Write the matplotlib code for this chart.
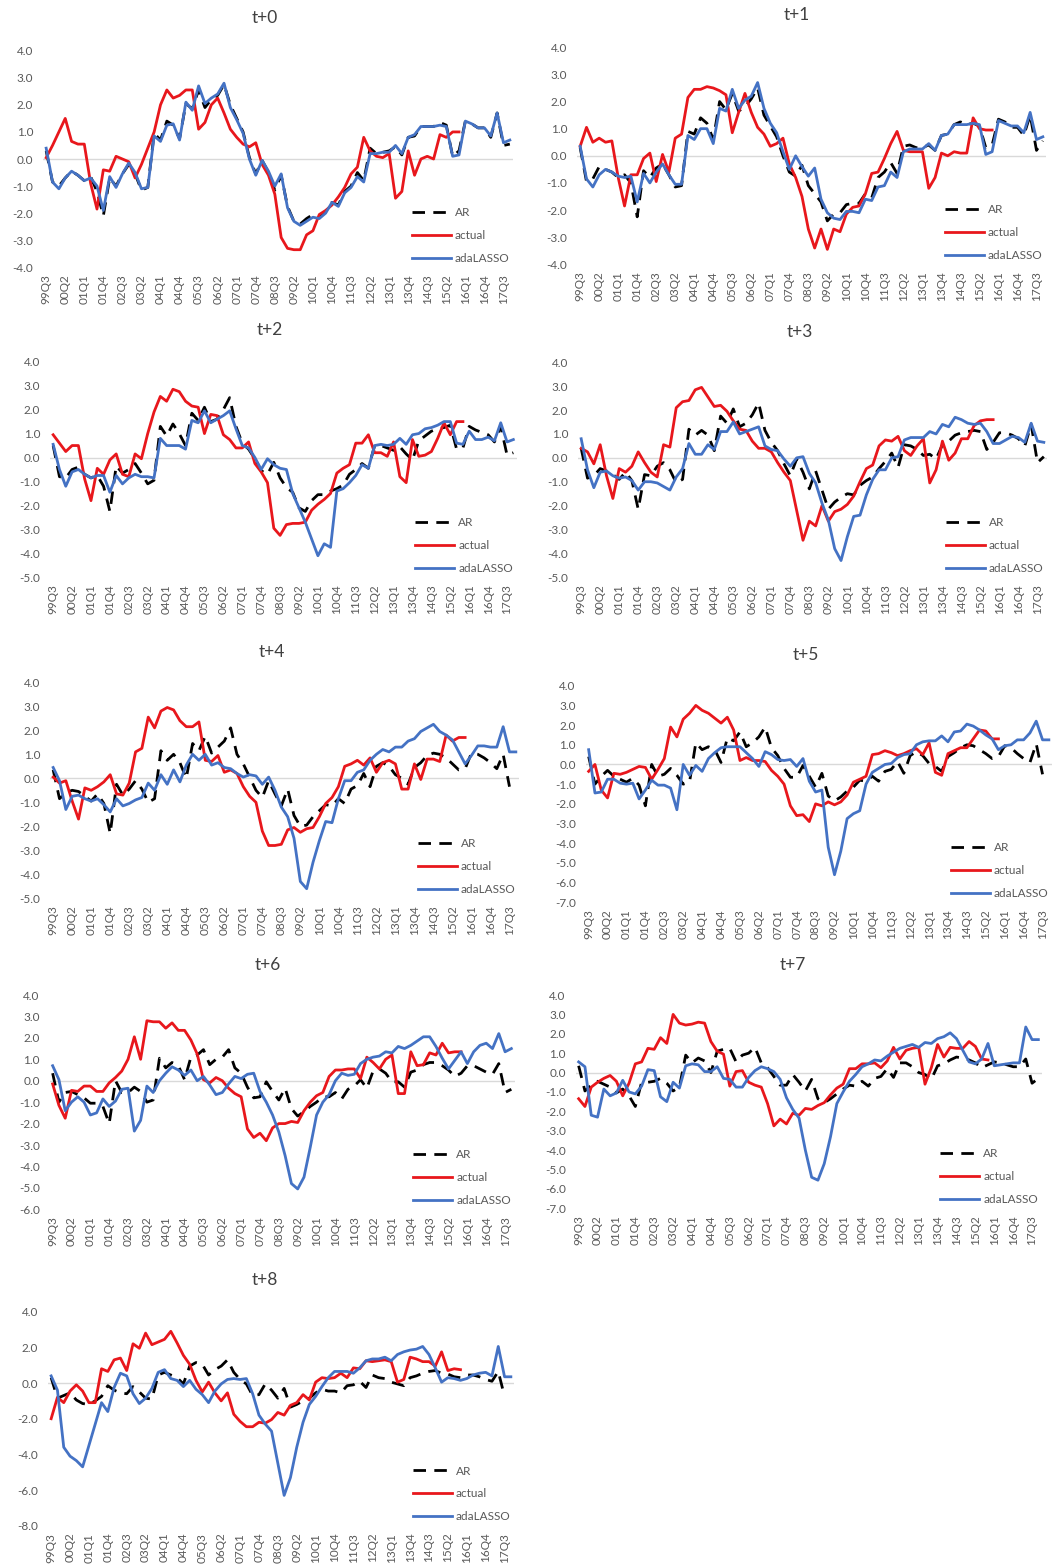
import numpy as np
import matplotlib
matplotlib.use("Agg")
import matplotlib.pyplot as plt
from matplotlib.ticker import FormatStrFormatter

plt.rcParams["font.family"] = ["Lato", "DejaVu Sans"]
plt.rcParams["axes.unicode_minus"] = False

# quarterly categories 99Q3 .. 17Q4
quarters = [f"{y % 100:02d}Q{q}" for y in range(1999, 2018) for q in range(1, 5)][2:]
N_Q = len(quarters)

tick_labels = ["99Q3", "00Q2", "01Q1", "01Q4", "02Q3", "03Q2", "04Q1", "04Q4", "05Q3",
               "06Q2", "07Q1", "07Q4", "08Q3", "09Q2", "10Q1", "10Q4", "11Q3", "12Q2",
               "13Q1", "13Q4", "14Q3", "15Q2", "16Q1", "16Q4", "17Q3"]

# ---- t+0 ----
ar_h0 = [0.3, -0.85, -1.0, -0.7, -0.45, -0.6, -0.8, -0.65, -1.2, -2.1,
         -0.7, -1.0, -0.55, -0.2, -0.55, -1.15, -1.05, 0.95, 0.7, 1.4,
         1.25, 0.75, 2.05, 1.85, 2.55, 1.9, 2.2, 2.35, 2.75, 2.0,
         1.5, 1.0, 0.05, -0.55, -0.05, -0.5, -1.15, -0.6, -1.75, -2.3,
         -2.4, -2.2, -2.05, -2.15, -1.95, -1.6, -1.7, -1.2, -1.0, -0.5,
         -0.8, 0.4, 0.2, 0.25, 0.3, 0.45, 0.15, 0.8, 0.85, 1.2,
         1.2, 1.2, 1.35, 1.25, 0.1, 0.3, 1.4, 1.3, 1.15, 1.15,
         0.8, 1.7, 0.5, 0.55]
actual_h0 = [0.05, 0.5, 1.0, 1.5, 0.65, 0.55, 0.55, -0.9, -1.85, -0.4,
             -0.45, 0.1, 0.0, -0.1, -0.7, -0.2, 0.4, 1.0, 2.0, 2.55,
             2.25, 2.35, 2.55, 2.55, 1.1, 1.35, 2.0, 2.25, 1.7, 1.1,
             0.8, 0.55, 0.45, 0.6, -0.2, -0.6, -1.3, -2.9, -3.3, -3.35,
             -3.35, -2.8, -2.65, -2.05, -1.9, -1.7, -1.4, -1.05, -0.55, -0.3,
             0.8, 0.3, 0.1, 0.05, 0.2, -1.45, -1.2, 0.3, -0.6, 0.0,
             0.1, 0.0, 0.9, 0.8, 1.0, 1.0]
lasso_h0 = [0.4, -0.85, -1.1, -0.7, -0.45, -0.6, -0.8, -0.7, -1.0, -1.9,
            -0.65, -1.05, -0.55, -0.15, -0.5, -1.1, -1.05, 0.85, 0.65, 1.25,
            1.3, 0.7, 2.1, 1.8, 2.7, 2.05, 2.25, 2.4, 2.8, 1.9,
            1.45, 0.95, 0.0, -0.6, -0.05, -0.45, -1.0, -0.55, -1.8, -2.3,
            -2.45, -2.3, -2.15, -2.2, -2.0, -1.6, -1.75, -1.25, -1.05, -0.65,
            -0.85, 0.2, 0.2, 0.25, 0.25, 0.5, 0.2, 0.8, 0.9, 1.2,
            1.2, 1.2, 1.25, 1.2, 0.1, 0.15, 1.4, 1.3, 1.15, 1.15,
            0.85, 1.7, 0.6, 0.7]

# ---- t+1 ----
ar_h1 = [0.3, -0.95, -0.85, -0.4, -0.5, -0.6, -0.8, -0.7, -1.0, -2.25,
         -0.55, -0.8, -0.45, -0.3, -0.7, -1.15, -1.1, 0.9, 0.8, 1.4,
         1.2, 0.6, 2.0, 1.7, 2.3, 1.65, 1.8, 2.1, 2.5, 1.5,
         1.1, 0.7, 0.0, -0.6, -0.75, -0.35, -1.1, -1.4, -1.7, -2.4,
         -2.15, -2.1, -1.8, -1.75, -1.75, -1.4, -1.55, -0.8, -0.6, -0.25,
         -0.65, 0.35, 0.4, 0.3, 0.3, 0.4, 0.2, 0.75, 0.8, 1.15,
         1.25, 1.15, 1.2, 1.1, 0.3, 0.4, 1.35, 1.25, 1.05, 1.05,
         0.75, 1.5, 0.2, 0.55]
actual_h1 = [0.35, 1.05, 0.5, 0.65, 0.5, 0.55, -0.8, -1.85, -0.7, -0.7,
             -0.1, 0.1, -0.95, 0.05, -0.6, 0.65, 0.8, 2.15, 2.45, 2.45,
             2.55, 2.5, 2.4, 2.25, 0.85, 1.6, 2.3, 1.6, 1.05, 0.8,
             0.35, 0.45, 0.65, -0.3, -0.8, -1.5, -2.7, -3.4, -2.7, -3.45,
             -2.7, -2.8, -2.15, -1.9, -1.85, -1.4, -0.65, -0.6, -0.1, 0.45,
             0.9, 0.2, 0.15, 0.15, 0.15, -1.2, -0.8, 0.1, 0.0, 0.15,
             0.1, 0.1, 1.4, 1.0, 0.95, 0.95]
lasso_h1 = [0.35, -0.85, -1.15, -0.7, -0.5, -0.6, -0.75, -0.8, -0.75, -1.7,
            -0.65, -1.0, -0.6, -0.3, -0.7, -1.05, -1.05, 0.75, 0.6, 1.0,
            1.0, 0.45, 1.75, 1.65, 2.45, 1.75, 2.05, 2.2, 2.7, 1.75,
            1.2, 0.85, 0.15, -0.5, 0.0, -0.4, -0.75, -0.45, -1.6, -2.1,
            -2.3, -2.35, -2.05, -2.05, -2.1, -1.6, -1.65, -1.15, -1.1, -0.6,
            -0.8, 0.15, 0.25, 0.25, 0.25, 0.45, 0.2, 0.75, 0.8, 1.15,
            1.15, 1.15, 1.2, 1.15, 0.05, 0.15, 1.3, 1.2, 1.1, 1.1,
            0.85, 1.6, 0.6, 0.7]

# ---- t+2 ----
ar_h2 = [0.5, -0.8, -0.85, -0.5, -0.4, -0.7, -0.85, -0.75, -1.2, -2.25,
         -0.35, -0.65, -0.5, -0.25, -0.65, -1.1, -0.95, 1.3, 0.9, 1.4,
         1.0, 0.5, 1.85, 1.55, 2.1, 1.5, 1.6, 2.0, 2.5, 1.3,
         0.6, 0.35, -0.05, -0.55, -0.7, -0.2, -0.85, -1.25, -1.45, -2.1,
         -2.25, -1.8, -1.55, -1.55, -1.4, -1.3, -1.15, -0.7, -0.5, -0.25,
         -0.45, 0.5, 0.5, 0.4, 0.3, 0.45, 0.15, -0.1, 0.7, 0.9,
         1.1, 1.2, 1.25, 1.35, 0.35, 0.4, 1.3, 1.15, 1.05, 0.95,
         0.65, 1.3, 0.1, 0.2]
actual_h2 = [0.95, 0.6, 0.25, 0.5, 0.5, -0.9, -1.8, -0.45, -0.7, -0.1,
             0.15, -0.7, -0.8, 0.15, -0.05, 1.0, 1.9, 2.55, 2.35, 2.85,
             2.75, 2.35, 2.15, 2.1, 1.0, 1.8, 1.75, 0.95, 0.75, 0.4,
             0.4, 0.65, -0.25, -0.6, -1.05, -2.95, -3.25, -2.8, -2.75, -2.75,
             -2.7, -2.2, -1.95, -1.75, -1.5, -0.65, -0.45, -0.3, 0.6, 0.6,
             0.95, 0.2, 0.2, 0.05, 0.65, -0.8, -1.05, 0.75, 0.05, 0.1,
             0.25, 0.8, 1.45, 0.95, 1.5, 1.5]
lasso_h2 = [0.55, -0.5, -1.2, -0.6, -0.5, -0.7, -0.85, -0.75, -0.75, -1.45,
            -0.75, -1.1, -0.85, -0.7, -0.8, -0.8, -0.85, 0.8, 0.5, 0.5,
            0.5, 0.35, 1.55, 1.45, 1.95, 1.45, 1.6, 1.75, 1.95, 1.2,
            0.5, 0.4, 0.0, -0.5, -0.05, -0.3, -0.45, -0.5, -1.5, -2.1,
            -2.7, -3.4, -4.1, -3.6, -3.75, -1.4, -1.3, -1.05, -0.75, -0.3,
            -0.45, 0.5, 0.55, 0.5, 0.55, 0.8, 0.55, 0.95, 1.0, 1.2,
            1.25, 1.35, 1.5, 1.5, 0.6, 0.55, 1.1, 0.75, 0.75, 0.85,
            0.7, 1.45, 0.65, 0.75]

# ---- t+3 ----
ar_h3 = [0.4, -0.85, -0.75, -0.45, -0.55, -0.7, -0.9, -0.6, -0.95, -2.15,
         -0.7, -0.75, -0.35, -0.2, -0.5, -1.05, -0.9, 1.2, 0.95, 1.15,
         0.95, 0.3, 1.75, 1.45, 2.05, 1.3, 1.45, 1.8, 2.3, 1.15,
         0.65, 0.3, -0.25, -0.75, -0.05, -0.6, -1.3, -0.55, -1.35, -2.15,
         -1.85, -1.65, -1.5, -1.55, -1.15, -0.95, -0.8, -0.45, -0.15, 0.2,
         -0.4, 0.55, 0.5, 0.35, 0.1, 0.15, -0.05, 0.55, 0.7, 0.95,
         1.05, 1.1, 1.15, 1.1, 0.35, 0.65, 1.05, 1.05, 0.95, 0.8,
         0.5, 1.4, -0.2, 0.05]
actual_h3 = [0.4, 0.25, -0.25, 0.55, -0.75, -1.7, -0.45, -0.6, -0.35, 0.25,
             -0.2, -0.6, -0.8, 0.55, 0.45, 2.1, 2.35, 2.4, 2.85, 2.95,
             2.55, 2.15, 2.2, 1.95, 1.55, 1.2, 1.15, 0.7, 0.4, 0.4,
             0.25, -0.2, -0.6, -0.95, -2.2, -3.45, -2.65, -2.85, -2.0, -2.65,
             -2.25, -2.15, -1.95, -1.6, -1.0, -0.45, -0.3, 0.5, 0.75, 0.7,
             0.9, 0.3, 0.1, 0.5, 0.8, -1.05, -0.5, 0.7, -0.1, 0.2,
             0.8, 0.8, 1.35, 1.55, 1.6, 1.6]
lasso_h3 = [0.8, -0.5, -1.25, -0.6, -0.55, -0.75, -0.85, -0.8, -0.95, -1.35,
            -1.0, -1.0, -1.05, -1.2, -1.35, -0.8, -0.45, 0.6, 0.15, 0.15,
            0.55, 0.35, 1.1, 1.1, 1.5, 1.0, 1.1, 1.2, 1.3, 0.5,
            0.35, 0.3, -0.05, -0.35, 0.0, 0.05, -0.65, -1.05, -1.9, -2.6,
            -3.8, -4.3, -3.3, -2.45, -2.4, -1.55, -0.9, -0.5, -0.5, 0.0,
            0.05, 0.75, 0.85, 0.85, 0.85, 1.1, 1.0, 1.4, 1.3, 1.7,
            1.6, 1.45, 1.4, 1.45, 1.1, 0.6, 0.6, 0.75, 0.9, 0.85,
            0.65, 1.45, 0.7, 0.65]

# ---- t+4 ----
ar_h4 = [0.35, -0.85, -0.6, -0.5, -0.55, -0.75, -0.95, -0.65, -1.05, -2.3,
         -0.25, -0.7, -0.45, -0.1, -0.45, -1.0, -0.85, 1.15, 0.75, 1.0,
         0.65, 0.0, 1.45, 1.15, 1.75, 1.05, 1.3, 1.55, 2.1, 1.0,
         0.6, 0.05, -0.5, -0.8, -0.1, -0.65, -1.15, -0.45, -1.55, -2.0,
         -1.95, -1.6, -1.35, -1.1, -1.15, -0.85, -1.05, -0.45, -0.3, 0.2,
         -0.35, 0.5, 0.65, 0.5, 0.15, 0.0, -0.25, 0.45, 0.65, 0.95,
         1.05, 1.0, 0.85, 0.6, 0.35, 0.4, 1.05, 1.0, 0.85, 0.65,
         0.4, 1.0, -0.35]
actual_h4 = [0.05, -0.2, -0.1, -0.95, -1.7, -0.4, -0.5, -0.35, -0.15, 0.15,
             -0.65, -0.7, -0.2, 1.1, 1.25, 2.55, 2.1, 2.8, 2.95, 2.85,
             2.4, 2.15, 2.15, 2.35, 0.75, 0.7, 0.95, 0.25, 0.35, 0.2,
             -0.35, -0.75, -1.0, -2.2, -2.8, -2.8, -2.75, -2.15, -2.05, -2.25,
             -2.1, -2.05, -1.6, -1.05, -0.8, -0.35, 0.5, 0.6, 0.75, 0.55,
             0.85, 0.25, 0.65, 0.75, 0.6, -0.45, -0.45, 0.6, -0.05, 0.8,
             0.8, 0.7, 1.8, 1.55, 1.7, 1.7]
lasso_h4 = [0.45, -0.1, -1.3, -0.75, -0.7, -0.85, -0.95, -0.85, -1.1, -1.4,
            -0.85, -1.15, -1.05, -0.9, -0.8, -0.2, -0.5, 0.15, -0.25, 0.35,
            -0.15, 0.55, 1.0, 0.75, 1.0, 0.55, 0.65, 0.45, 0.4, 0.2,
            0.05, 0.15, 0.1, -0.25, 0.05, -0.5, -1.2, -1.6, -2.5, -4.3,
            -4.6, -3.5, -2.6, -1.8, -1.85, -0.85, -0.1, -0.1, 0.25, 0.35,
            0.75, 1.0, 1.2, 1.1, 1.3, 1.3, 1.55, 1.65, 1.95, 2.1,
            2.25, 1.95, 1.8, 1.6, 1.1, 0.6, 0.95, 1.35, 1.35, 1.3,
            1.3, 2.15, 1.1, 1.1]

# ---- t+5 ----
ar_h5 = [0.4, -1.0, -0.6, -0.3, -0.6, -0.75, -0.9, -0.7, -1.05, -2.1,
         0.0, -0.6, -0.5, -0.2, -0.55, -1.0, -0.9, 1.1, 0.75, 0.9,
         0.75, 0.1, 1.35, 1.2, 1.65, 0.9, 1.1, 1.4, 1.9, 0.85,
         0.45, -0.2, -0.65, -0.65, -0.05, -0.6, -1.15, -0.45, -1.6, -1.85,
         -1.65, -1.35, -1.15, -0.8, -0.85, -0.6, -0.85, -0.35, -0.25, 0.15,
         -0.45, 0.45, 0.65, 0.45, 0.05, -0.1, -0.35, 0.4, 0.6, 0.85,
         1.0, 0.95, 0.75, 0.55, 0.3, 0.4, 0.95, 0.85, 0.55, 0.3,
         0.1, 1.05, -0.5]
actual_h5 = [-0.35, 0.0, -1.3, -1.7, -0.45, -0.5, -0.4, -0.25, -0.1, -0.15,
             -0.75, -0.25, 0.3, 1.9, 1.4, 2.3, 2.6, 3.0, 2.75, 2.6,
             2.35, 2.1, 2.4, 1.75, 0.2, 0.35, 0.2, 0.2, 0.15, -0.3,
             -0.6, -1.0, -2.1, -2.6, -2.55, -2.9, -2.0, -2.1, -1.9, -2.05,
             -1.9, -1.55, -0.9, -0.75, -0.6, 0.5, 0.55, 0.7, 0.6, 0.45,
             0.55, 0.7, 0.8, 0.5, 1.1, -0.4, -0.55, 0.55, 0.7, 0.85,
             0.85, 1.3, 1.75, 1.7, 1.3, 1.3]
lasso_h5 = [0.75, -1.45, -1.4, -0.75, -0.75, -0.95, -1.0, -0.95, -1.75, -1.3,
            -0.8, -1.05, -1.05, -1.2, -2.3, 0.0, -0.55, -0.05, -0.35, 0.3,
            0.6, 0.85, 0.9, 0.9, 0.9, 0.6, 0.3, -0.1, 0.65, 0.5,
            0.25, 0.2, 0.25, -0.1, 0.3, -0.85, -1.4, -1.3, -4.2, -5.6,
            -4.4, -2.75, -2.5, -2.35, -1.0, -0.4, -0.2, 0.0, 0.05, 0.35,
            0.5, 0.55, 1.0, 1.15, 1.2, 1.2, 1.45, 1.15, 1.65, 1.7,
            2.05, 1.95, 1.75, 1.5, 1.3, 0.75, 0.95, 1.0, 1.25, 1.25,
            1.6, 2.2, 1.25, 1.25]

# ---- t+6 ----
ar_h6 = [0.35, -1.0, -0.55, -0.5, -0.65, -0.8, -1.05, -1.05, -1.2, -2.0,
         0.0, -0.55, -0.55, -0.3, -0.5, -1.0, -0.9, 1.05, 0.6, 0.85,
         0.7, 0.05, 1.1, 1.2, 1.45, 0.75, 1.0, 1.1, 1.45, 0.6,
         0.35, -0.3, -0.8, -0.75, -0.05, -0.5, -0.9, -0.35, -1.3, -1.65,
         -1.45, -1.2, -1.0, -0.75, -0.75, -0.55, -0.85, -0.4, -0.25, 0.05,
         -0.35, 0.45, 0.55, 0.35, -0.05, -0.05, -0.3, 0.4, 0.5, 0.75,
         0.85, 0.85, 0.7, 0.5, 0.2, 0.35, 0.7, 0.7, 0.55, 0.4,
         0.3, 0.8, -0.55, -0.4]
actual_h6 = [-0.15, -1.15, -1.75, -0.45, -0.5, -0.25, -0.25, -0.5, -0.5, -0.1,
             0.15, 0.45, 1.0, 2.05, 1.0, 2.8, 2.75, 2.75, 2.45, 2.7,
             2.35, 2.35, 1.9, 1.25, 0.05, -0.1, 0.15, 0.0, -0.35, -0.6,
             -0.75, -2.25, -2.65, -2.45, -2.8, -2.2, -2.0, -2.0, -1.9, -1.95,
             -1.4, -1.0, -0.7, -0.55, 0.2, 0.5, 0.5, 0.55, 0.55, 0.1,
             1.1, 0.85, 0.55, 1.0, 1.2, -0.6, -0.6, 1.35, 0.7, 0.75,
             1.3, 1.2, 1.75, 1.3, 1.35, 1.35]
lasso_h6 = [0.7, 0.05, -1.4, -1.0, -0.75, -1.0, -1.6, -1.5, -0.85, -1.2,
            -0.95, -0.4, -0.35, -2.35, -1.85, -0.25, -0.55, 0.0, 0.35, 0.65,
            0.5, 0.25, 0.5, 0.0, 0.2, -0.2, -0.65, -0.55, -0.15, 0.2,
            0.1, 0.3, 0.35, -0.5, -1.0, -1.6, -2.4, -3.5, -4.8, -5.05,
            -4.5, -3.1, -1.6, -1.0, -0.65, 0.0, 0.35, 0.25, 0.3, 0.8,
            1.0, 1.1, 1.15, 1.35, 1.3, 1.6, 1.5, 1.65, 1.85, 2.05,
            2.05, 1.6, 1.05, 0.55, 0.95, 1.35, 0.8, 1.35, 1.65, 1.75,
            1.5, 2.2, 1.35, 1.5]

# ---- t+7 ----
ar_h7 = [0.35, -0.95, -0.65, -0.45, -0.6, -0.75, -1.05, -0.85, -1.2, -1.75,
         -0.5, -0.5, -0.45, -0.3, -0.55, -0.95, -0.75, 0.9, 0.5, 0.75,
         0.6, 0.0, 1.1, 1.2, 1.25, 0.55, 0.9, 1.0, 1.3, 0.5,
         0.25, -0.2, -0.65, -0.65, -0.1, -0.5, -0.95, -0.35, -1.35, -1.55,
         -1.35, -1.1, -0.85, -0.65, -0.7, -0.45, -0.7, -0.3, -0.2, 0.2,
         -0.25, 0.5, 0.5, 0.3, 0.0, -0.1, -0.35, 0.35, 0.45, 0.65,
         0.8, 0.75, 0.65, 0.5, 0.25, 0.4, 0.55, 0.5, 0.4, 0.3,
         0.3, 0.7, -0.55, -0.3]
actual_h7 = [-1.35, -1.75, -0.75, -0.5, -0.3, -0.15, -0.45, -1.2, -0.55, 0.45,
             0.55, 1.25, 1.2, 1.8, 1.5, 3.0, 2.55, 2.45, 2.5, 2.6,
             2.55, 1.6, 1.1, 0.95, -0.7, 0.05, 0.1, -0.5, -0.65, -0.75,
             -1.6, -2.75, -2.4, -2.65, -2.1, -2.2, -1.85, -1.9, -1.7, -1.55,
             -1.15, -0.8, -0.6, 0.2, 0.2, 0.45, 0.45, 0.5, 0.25, 0.6,
             1.3, 0.7, 1.15, 1.25, 1.3, -0.6, 0.25, 1.45, 0.8, 1.3,
             1.25, 1.25, 1.6, 1.35, 0.7, 0.65]
lasso_h7 = [0.55, 0.3, -2.2, -2.3, -0.85, -1.2, -1.05, -0.4, -1.0, -1.1,
            -0.7, 0.15, 0.1, -1.25, -1.5, -0.5, -0.8, 0.35, 0.45, 0.4,
            0.05, 0.05, 0.3, -0.3, -0.35, -0.75, -0.75, -0.25, 0.1, 0.3,
            0.2, 0.05, -0.35, -1.3, -1.9, -2.35, -4.0, -5.4, -5.55, -4.7,
            -3.3, -1.6, -1.0, -0.45, -0.1, 0.3, 0.45, 0.65, 0.6, 0.85,
            1.05, 1.25, 1.35, 1.45, 1.3, 1.55, 1.5, 1.75, 1.85, 2.05,
            1.75, 1.15, 0.55, 0.45, 0.7, 1.5, 0.35, 0.4, 0.45, 0.5,
            0.5, 2.35, 1.7, 1.7]

# ---- t+8 ----
ar_h8 = [0.3, -0.85, -0.7, -0.55, -0.95, -1.15, -1.2, -1.0, -0.75, -0.15,
         -0.4, -0.55, -0.6, -0.2, -0.5, -0.85, -0.9, 0.45, 0.6, 0.45,
         0.3, -0.05, 0.95, 1.15, 1.05, 0.45, 0.75, 0.95, 1.3, 0.6,
         0.2, -0.05, -0.7, -0.65, -0.05, -0.4, -0.85, -0.3, -1.35, -1.2,
         -1.0, -0.85, -0.55, -0.35, -0.45, -0.45, -0.55, -0.15, -0.1, 0.1,
         -0.25, 0.45, 0.3, 0.25, 0.05, -0.05, -0.15, 0.3, 0.4, 0.55,
         0.65, 0.7, 0.55, 0.5, 0.35, 0.3, 0.45, 0.45, 0.35, 0.2,
         0.1, 0.65, -0.75]
actual_h8 = [-2.0, -0.8, -1.1, -0.45, -0.1, -0.45, -1.1, -1.1, 0.8, 0.65,
             1.3, 1.4, 0.7, 2.2, 1.95, 2.8, 2.15, 2.3, 2.45, 2.9,
             2.25, 1.55, 1.05, 0.15, -0.5, 0.05, -0.55, -1.0, -0.55, -1.75,
             -2.15, -2.45, -2.45, -2.2, -2.25, -2.05, -1.65, -1.8, -1.25, -1.1,
             -0.65, -0.95, 0.05, 0.3, 0.25, 0.3, 0.55, 0.3, 0.85, 0.8,
             1.25, 1.2, 1.25, 1.3, 1.2, 0.05, 0.2, 1.45, 1.35, 1.2,
             1.2, 0.95, 1.75, 0.7, 0.8, 0.75]
lasso_h8 = [0.4, -0.4, -3.6, -4.1, -4.35, -4.7, -3.5, -2.3, -1.1, -1.6,
            -0.25, 0.55, 0.4, -0.6, -1.15, -0.85, -0.3, 0.6, 0.75, 0.25,
            0.15, -0.2, 0.15, -0.35, -0.65, -1.1, -0.45, -0.05, 0.2, 0.25,
            0.2, 0.25, -0.6, -1.8, -2.3, -2.7, -4.5, -6.3, -5.3, -3.6,
            -2.2, -1.2, -0.75, -0.2, 0.3, 0.65, 0.65, 0.65, 0.55, 0.85,
            1.25, 1.35, 1.35, 1.45, 1.25, 1.6, 1.75, 1.85, 1.9, 2.05,
            1.6, 0.85, 0.05, 0.3, 0.25, 0.15, 0.25, 0.45, 0.55, 0.6,
            0.4, 2.05, 0.35, 0.35]

panels = [
    ("t+0", ar_h0, actual_h0, lasso_h0, (-4, 4, 1)),
    ("t+1", ar_h1, actual_h1, lasso_h1, (-4, 4, 1)),
    ("t+2", ar_h2, actual_h2, lasso_h2, (-5, 4, 1)),
    ("t+3", ar_h3, actual_h3, lasso_h3, (-5, 4, 1)),
    ("t+4", ar_h4, actual_h4, lasso_h4, (-5, 4, 1)),
    ("t+5", ar_h5, actual_h5, lasso_h5, (-7, 4, 1)),
    ("t+6", ar_h6, actual_h6, lasso_h6, (-6, 4, 1)),
    ("t+7", ar_h7, actual_h7, lasso_h7, (-7, 4, 1)),
    ("t+8", ar_h8, actual_h8, lasso_h8, (-8, 4, 2)),
]

# plot boxes in pixels: left, top, right, bottom; title centre x, y
W, H = 1056, 1564
boxes = [
    (43, 50.7, 513, 267.3, 265, 18),
    (577, 47.3, 1046, 264.3, 797, 15),
    (50, 361.7, 516.5, 577.3, 270, 330),
    (578, 362.3, 1047, 577.3, 800, 332),
    (50, 682.3, 519, 898.3, 272, 652),
    (585.5, 685.7, 1052, 902.3, 806, 655),
    (49.5, 995, 514.5, 1209.3, 268, 965),
    (575.5, 995, 1041.5, 1208.3, 793, 965),
    (48, 1311.7, 514, 1525.7, 265, 1280),
]

TEXT = "#595959"
RED = "#e8171c"
BLUE = "#4472c4"


def padded(values):
    out = np.full(N_Q, np.nan)
    out[:len(values)] = values
    return out


fig = plt.figure(figsize=(W / 100, H / 100), dpi=100)
x = np.arange(N_Q)

for (title, ar, actual, lasso, (lo, hi, step)), (l, t, r, b, tx, ty) in zip(panels, boxes):
    ax = fig.add_axes([l / W, 1 - b / H, (r - l) / W, (b - t) / H])
    ax.axhline(0, color="#d9d9d9", lw=1.0, zorder=1)
    ax.plot(x, padded(ar), color="black", lw=2.0, dashes=(4.5, 3), label="AR", zorder=3)
    ax.plot(x, padded(actual), color=RED, lw=2.0, label="actual", zorder=4)
    ax.plot(x, padded(lasso), color=BLUE, lw=2.0, label="adaLASSO", zorder=5)

    ax.set_xlim(-0.5, N_Q - 0.5)
    ax.set_ylim(lo, hi)
    ax.set_yticks(np.arange(lo, hi + step / 2, step))
    ax.yaxis.set_major_formatter(FormatStrFormatter("%.1f"))
    ax.set_xticks(np.arange(0, N_Q, 3))
    ax.set_xticklabels(tick_labels, rotation=90)
    ax.tick_params(axis="y", length=0, labelsize=8.5, colors=TEXT, pad=7)
    ax.tick_params(axis="x", length=0, labelsize=8.5, colors=TEXT, pad=5)
    for spine in ax.spines.values():
        spine.set_visible(False)

    leg = ax.legend(loc="lower right", frameon=False, fontsize=8.5, handlelength=3.3,
                    handletextpad=0.35, labelspacing=1.0, borderaxespad=0.3,
                    borderpad=0.0)
    for txt in leg.get_texts():
        txt.set_color(TEXT)

    fig.text(tx / W, 1 - ty / H, title, ha="center", va="center",
             fontsize=12.5, color="#404040")

fig.savefig("out.png", dpi=100)
